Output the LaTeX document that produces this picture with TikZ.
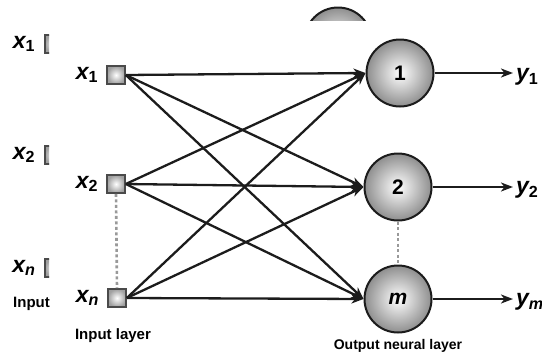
\documentclass[tikz,border=0pt]{standalone}
\usepackage{fontspec}
\setmainfont{Liberation Sans}
\usetikzlibrary{arrows.meta,positioning}
\definecolor{ink}{HTML}{1C1C1C}
\definecolor{rim}{HTML}{4A4A4A}
\definecolor{shade}{HTML}{8E8E8E}
\definecolor{dotgray}{HTML}{999999}
\tikzset{unit/.style={circle,draw=ink,line width=2pt,minimum size=67pt,inner sep=0pt,
  shading=radial,inner color=white,outer color=shade,
  font=\fontsize{21}{21}\selectfont\bfseries},
  inbox/.style={rectangle,draw=rim,line width=1.6pt,minimum size=18pt,inner sep=0pt,
  shading=radial,inner color=white,outer color=shade!85},
  var/.style={font=\fontsize{23}{23}\selectfont\bfseries\itshape,inner sep=1pt},
  layername/.style={font=\fontsize{15}{15}\selectfont\bfseries,inner sep=1pt},
  link/.style={-{Stealth[length=12pt,width=9pt,inset=3.5pt]},line width=2.3pt,draw=ink},
  dots/.style={line width=2.6pt,draw=dotgray,dash pattern=on 3pt off 2.5pt}}

\begin{document}
\begin{tikzpicture}[x=1pt,y=-1pt,node distance=8pt]
\clip (0,0) rectangle (542,354);
% left-over copy of the input column, cut at its right side
\begin{scope}
\clip (0,0) rectangle (49,354);
\node[var] (ox1) at (24,44) {x\textsubscript{\upshape 1}};
\node[var] (ox2) at (24,155) {x\textsubscript{\upshape 2}};
\node[var] (oxn) at (24,268) {x\textsubscript{n}};
\node[inbox] (ob1) at (54,44) {};
\node[inbox] (ob2) at (54,155) {};
\node[inbox] (obn) at (54,268) {};
\node[layername,anchor=west] (olay) at (12,304) {Input};
\end{scope}
% left-over top of a neuron
\begin{scope}
\clip (280,0) rectangle (400,20);
\node[unit] (oneu) at (338,41) {};
\end{scope}
% inputs
\node[inbox] (in1) at (116,75) {};
\node[inbox] (in2) at (116,184) {};
\node[inbox] (inn) at (117,298) {};
\node[var,left=7pt of in1] (x1) {x\textsubscript{\upshape 1}};
\node[var,left=7pt of in2] (x2) {x\textsubscript{\upshape 2}};
\node[var,left=7pt of inn] (xn) {x\textsubscript{n}};
% neurons
\node[unit] (u1) at (400,73) {1};
\node[unit] (u2) at (398,187) {2};
\node[unit] (um) at (398,299) {\itshape m};
% outputs
\node[var,anchor=west,inner sep=3pt] (y1) at (513,77) {y\textsubscript{\upshape 1}};
\node[var,anchor=west,inner sep=3pt] (y2) at (513,190) {y\textsubscript{\upshape 2}};
\node[var,anchor=west,inner sep=3pt] (ym) at (513,302) {y\textsubscript{m}};
\node[layername,below=20pt of inn,xshift=-4pt] (inlay) {Input layer};
\node[layername,below=5pt of um,font=\fontsize{14}{14}\selectfont\bfseries] (outlay) {Output neural layer};
\draw[dots] (in2.south) -- (inn.north);
\draw[dots] (u2.south) -- (um.north);
\foreach \i in {in1,in2,inn}
  \foreach \j in {u1,u2,um}
    \draw[link] (\i.east) -- (\j.west);
\draw[link] (u1.east) -- (y1.west |- u1.east);
\draw[link] (u2.east) -- (y2.west |- u2.east);
\draw[link] (um.east) -- (ym.west |- um.east);
\end{tikzpicture}
\end{document}
